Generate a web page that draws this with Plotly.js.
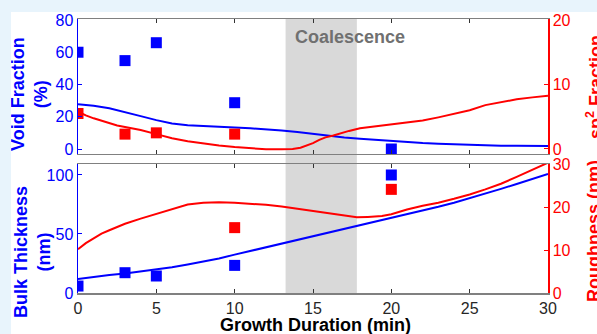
<!DOCTYPE html>
<html>
<head>
<meta charset="utf-8">
<script src="https://cdn.plot.ly/plotly-3.0.1.min.js"></script>
<style>
  html, body { margin: 0; padding: 0; background: #e8f4fc; width: 597px; height: 334px; overflow: hidden; }
  #chart { position: absolute; left: 11px; top: 12px; width: 586px; height: 322px; background: #ffffff; }
</style>
</head>
<body>
<div id="chart"></div>
<script>
// ---- Data ----
// Top panel: void fraction (%) measured points
const voidX = [0, 3, 5, 10, 20];
const voidPts = [60, 54.8, 65.9, 28.7, 0];
// Top panel: sp2 fraction measured points
const sp2X = [0, 3, 5, 10];
const sp2Pts = [5.5, 2.3, 2.5, 2.3];
// Top panel: void fraction curve
const voidCurveX = [0, 1, 2, 3, 4, 5, 6, 7, 8, 9, 10, 11, 12, 13, 14, 15, 16, 17, 18, 19, 20, 21, 22, 23, 24, 25, 26, 27, 28, 29, 30];
const voidCurve = [27.7, 26.8, 25.3, 23.0, 20.4, 17.9, 15.8, 14.7, 14.1, 13.6, 13.3, 12.8, 12.2, 11.5, 10.5, 9.3, 8.0, 7.1, 6.3, 5.6, 4.9, 4.2, 3.7, 3.3, 2.9, 2.5, 2.2, 2.0, 1.95, 1.9, 1.85];
// Top panel: sp2 fraction curve
const sp2CurveX = [0, 0.5, 1, 1.5, 2, 2.5, 3, 3.5, 4, 5, 6, 7, 8, 9, 10, 11, 12, 13, 13.7, 14.2, 14.6, 15, 15.4, 15.8, 16.3, 16.8, 17.3, 18, 19, 20, 21, 22, 23, 24, 25, 26, 27, 28, 29, 30];
const sp2Curve = [5.8, 5.2, 4.75, 4.35, 4.0, 3.65, 3.4, 3.15, 2.95, 2.3, 1.65, 1.2, 0.85, 0.55, 0.3, 0.1, -0.05, -0.05, 0.0, 0.2, 0.5, 0.9, 1.4, 1.8, 2.1, 2.5, 2.8, 3.2, 3.5, 3.9, 4.1, 4.4, 4.9, 5.4, 6.0, 6.8, 7.3, 7.7, 8.0, 8.27];
// Bottom panel: bulk thickness (nm) measured points
const bulkX = [0, 3, 5, 10, 20];
const bulkPts = [5.9, 17.2, 14.4, 23.4, 100];
// Bottom panel: roughness (nm) measured points
const roughX = [10, 20];
const roughPts = [15.2, 24.1];
// Bottom panel: bulk thickness curve
const bulkCurveX = [0, 1, 2, 3, 4, 5, 6, 7, 8, 9, 10, 11, 12, 13, 14, 15, 16, 17, 18, 19, 20, 21, 22, 23, 24, 25, 26, 27, 28, 29, 30];
const bulkCurve = [11.9, 13.8, 15.3, 16.6, 18.2, 19.8, 21.8, 24.2, 26.8, 29.2, 32.5, 35.6, 38.7, 41.8, 44.6, 47.8, 51.0, 54.2, 57.5, 60.6, 63.5, 66.5, 69.7, 73.0, 76.5, 80.2, 84.2, 88.2, 92.4, 96.6, 100.8];
// Bottom panel: roughness curve
const roughCurveX = [0, 0.5, 1, 1.5, 2, 3, 4, 5, 6, 7, 8, 9, 10, 11, 12, 13, 14, 15, 16, 17, 17.8, 18.5, 19.4, 20, 21, 22, 23, 24, 25, 26, 27, 28, 29, 30];
const roughCurve = [10.2, 11.6, 12.7, 13.8, 14.6, 16.1, 17.3, 18.4, 19.6, 20.6, 21.0, 21.1, 21.0, 20.8, 20.5, 20.1, 19.6, 19.1, 18.6, 18.0, 17.6, 17.7, 17.9, 18.3, 19.4, 20.3, 21.0, 21.9, 22.9, 24.1, 25.4, 27.0, 28.7, 30.3];
// Tick values
const xTicks = [0, 5, 10, 15, 20, 25, 30];
const voidTicks = [0, 20, 40, 60, 80];
const sp2Ticks = [0, 10, 20];
const bulkTicks = [0, 50, 100];
const roughTicks = [0, 10, 20, 30];
// Coalescence window (min)
const coalStart = 13.25, coalEnd = 17.8;

const BLUE = '#0000ff', RED = '#ff0000', GRAY = '#808080';
const FONT = 'Liberation Sans, Arial, sans-serif';

const traces = [
  {x: voidCurveX, y: voidCurve, xaxis: 'x2', yaxis: 'y3', mode: 'lines', line: {color: BLUE, width: 2}},
  {x: sp2CurveX, y: sp2Curve, xaxis: 'x2', yaxis: 'y4', mode: 'lines', line: {color: RED, width: 2}},
  {x: voidX, y: voidPts, xaxis: 'x2', yaxis: 'y3', mode: 'markers', marker: {symbol: 'square', size: 11, color: BLUE}},
  {x: sp2X, y: sp2Pts, xaxis: 'x2', yaxis: 'y4', mode: 'markers', marker: {symbol: 'square', size: 11, color: RED}},
  {x: bulkCurveX, y: bulkCurve, xaxis: 'x', yaxis: 'y', mode: 'lines', line: {color: BLUE, width: 2}},
  {x: roughCurveX, y: roughCurve, xaxis: 'x', yaxis: 'y2', mode: 'lines', line: {color: RED, width: 2}},
  {x: bulkX, y: bulkPts, xaxis: 'x', yaxis: 'y', mode: 'markers', marker: {symbol: 'square', size: 11, color: BLUE}},
  {x: roughX, y: roughPts, xaxis: 'x', yaxis: 'y2', mode: 'markers', marker: {symbol: 'square', size: 11, color: RED}}
];

const xCommon = {
  range: [0, 30], tickvals: xTicks, ticks: 'inside', ticklen: 4, tickwidth: 1, tickcolor: '#333',
  showline: true, linecolor: GRAY, linewidth: 1.5, mirror: 'ticks', showgrid: false, zeroline: false,
  tickfont: {family: FONT, size: 16, color: '#262626'}, ticklabeloverflow: 'allow'
};
function yAx(extra, color) {
  return Object.assign({ticks: 'inside', ticklen: 4, tickcolor: color, showline: true, linecolor: color, linewidth: 1.5,
    showgrid: false, zeroline: false, tickfont: {family: FONT, size: 16, color: color}, ticklabeloverflow: 'allow'}, extra);
}

const layout = {
  width: 586, height: 322,
  margin: {l: 67, r: 49, t: 7, b: 41},
  paper_bgcolor: '#ffffff', plot_bgcolor: 'rgba(0,0,0,0)',
  showlegend: false,
  font: {family: FONT},
  xaxis: Object.assign({}, xCommon, {domain: [0, 1], anchor: 'y'}),
  xaxis2: Object.assign({}, xCommon, {domain: [0, 1], anchor: 'y3', showticklabels: false, matches: 'x'}),
  yaxis: yAx({domain: [0, 0.4708], range: [0, 109.3], tickvals: bulkTicks, anchor: 'x'}, BLUE),
  yaxis2: yAx({overlaying: 'y', side: 'right', anchor: 'x', range: [0, 30], tickvals: roughTicks}, RED),
  yaxis3: yAx({domain: [0.5073, 1], range: [-3.1, 80.6], tickvals: voidTicks, anchor: 'x2'}, BLUE),
  yaxis4: yAx({overlaying: 'y3', side: 'right', anchor: 'x2', range: [-0.78, 20.15], tickvals: sp2Ticks}, RED),
  shapes: [
    {type: 'rect', xref: 'x', yref: 'paper', x0: coalStart, x1: coalEnd, y0: 0, y1: 1,
     fillcolor: '#d9d9d9', line: {width: 0}, layer: 'below'}
  ],
  annotations: [
    {text: '<b>Coalescence</b>', xref: 'x2', yref: 'y3', x: 13.7, y: 69.5, xanchor: 'left', yanchor: 'middle',
     showarrow: false, font: {family: FONT, size: 18, color: '#707070'}},
    {text: '<b>Void Fraction<br>(%)</b>', xref: 'paper', yref: 'paper', x: (29.5 - 78) / 470, y: (293 - 94.5) / 274,
     xanchor: 'center', yanchor: 'middle', textangle: -90, showarrow: false, font: {family: FONT, size: 18, color: BLUE}},
    {text: '<b>Bulk Thickness<br>(nm)</b>', xref: 'paper', yref: 'paper', x: (32 - 78) / 470, y: (293 - 252) / 274,
     xanchor: 'center', yanchor: 'middle', textangle: -90, showarrow: false, font: {family: FONT, size: 18, color: BLUE}},
    {text: '<b>sp<sup>2</sup> Fraction</b>', xref: 'paper', yref: 'paper', x: (594 - 78) / 470, y: (293 - 87) / 274,
     xanchor: 'center', yanchor: 'middle', textangle: -90, showarrow: false, font: {family: FONT, size: 18, color: RED}},
    {text: '<b>Roughness (nm)</b>', xref: 'paper', yref: 'paper', x: (594 - 78) / 470, y: (293 - 231) / 274,
     xanchor: 'center', yanchor: 'middle', textangle: -90, showarrow: false, font: {family: FONT, size: 18, color: RED}},
    {text: '<b>Growth Duration (min)</b>', xref: 'paper', yref: 'paper', x: (315 - 78) / 470, y: (293 - 325) / 274,
     xanchor: 'center', yanchor: 'middle', showarrow: false, font: {family: FONT, size: 18, color: '#000000'}}
  ]
};

Plotly.newPlot('chart', traces, layout, {staticPlot: true, displayModeBar: false});
</script>
</body>
</html>
